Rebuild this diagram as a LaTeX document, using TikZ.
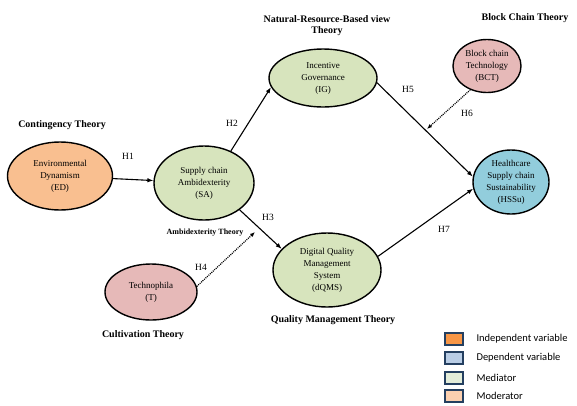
\documentclass[tikz,border=0pt]{standalone}
\usepackage{fontspec}
\setmainfont{Liberation Serif}
\newfontfamily\legendfont{Carlito}
\usetikzlibrary{shapes.geometric,arrows.meta}
\definecolor{edfill}{HTML}{F9BF90}
\definecolor{medfill}{HTML}{D7E4BD}
\definecolor{modfill}{HTML}{E6B9B8}
\definecolor{depfill}{HTML}{92CDDC}
\definecolor{legind}{HTML}{F79646}
\definecolor{legdep}{HTML}{B9CDE5}
\definecolor{legmed}{HTML}{E3EDD9}
\definecolor{legmod}{HTML}{FBD0B0}
\definecolor{legedge}{HTML}{243F60}
\begin{document}
\begin{tikzpicture}[x=1pt,y=-1pt,
  construct/.style={ellipse,draw,line width=1.4pt,inner sep=0pt,align=center,font=\rmfamily\fontsize{9}{12}\selectfont},
  theory/.style={font=\rmfamily\fontsize{10}{11}\selectfont\bfseries,align=center},
  hyp/.style={font=\rmfamily\fontsize{9.5}{11}\selectfont},
  effect/.style={line width=1.1pt,-{Latex[length=6pt,width=4.5pt]}},
  moder/.style={line width=1.2pt,dash pattern=on 1pt off 1pt,-{Latex[length=5pt,width=4pt]}},
  legbox/.style={draw=legedge,line width=1.3pt,minimum width=18pt,minimum height=12pt,inner sep=0pt},
  legtext/.style={font=\legendfont\fontsize{10.5}{12}\selectfont,anchor=west}]
\useasboundingbox (0,0) rectangle (577,405);

% constructs
\node[construct,fill=edfill,minimum width=105pt,minimum height=68pt] (ED) at (60,176) {Environmental\\Dynamism\\(ED)};
\node[construct,fill=medfill,minimum width=100pt,minimum height=74pt] (SA) at (204,183) {Supply chain\\Ambidexterity\\(SA)};
\node[construct,fill=medfill,minimum width=108pt,minimum height=58pt] (IG) at (323,78) {Incentive\\Governance\\(IG)};
\node[construct,fill=medfill,minimum width=108pt,minimum height=74pt] (dQMS) at (327,270) {Digital Quality\\Management\\System\\(dQMS)};
\node[construct,fill=modfill,minimum width=92pt,minimum height=56pt] (T) at (151,292) {Technophila\\(T)};
\node[construct,fill=modfill,minimum width=68pt,minimum height=53pt] (BCT) at (487,66) {Block chain\\Technology\\(BCT)};
\node[construct,fill=depfill,minimum width=76pt,minimum height=64pt] (HSSu) at (511,182) {Healthcare\\Supply chain\\Sustainability\\(HSSu)};

% theories
\node[theory] (contth) at (62,125) {Contingency Theory};
\node[theory] (nrbvth) at (327,26) {Natural-Resource-Based view\\Theory};
\node[theory] (bcth) at (525,18) {Block Chain Theory};
\node[theory,font=\rmfamily\fontsize{8}{9}\selectfont\bfseries] (ambith) at (205,233) {Ambidexterity Theory};
\node[theory] (cultth) at (143,335) {Cultivation Theory};
\node[theory] (qmth) at (333,320) {Quality Management Theory};

% paths
\coordinate (h4tip) at (255,232);
\coordinate (h6tip) at (427,129);
\draw[effect] (ED) -- (SA);
\draw[effect] (SA.50) -- (IG.190);
\draw[effect] (SA.-37) -- (dQMS.155);
\draw[moder] (T.7) -- (h4tip);
\draw[effect] (IG.-5) -- (HSSu.172);
\draw[moder] (BCT.235) -- (h6tip);
\draw[effect] (dQMS.15) -- (HSSu.190);

% hypotheses
\node[hyp] (h1) at (128,156) {H1};
\node[hyp] (h2) at (232,123) {H2};
\node[hyp] (h3) at (268,217) {H3};
\node[hyp] (h4) at (201,267) {H4};
\node[hyp] (h5) at (408,89) {H5};
\node[hyp] (h6) at (467,113) {H6};
\node[hyp] (h7) at (444,229) {H7};

% legend
\node[legbox,fill=legind] (leg1) at (454,339) {};
\node[legbox,fill=legdep] (leg2) at (454,358) {};
\node[legbox,fill=legmed] (leg3) at (454,378) {};
\node[legbox,fill=legmod] (leg4) at (454,396) {};
\node[legtext] (legt1) at (473,339) {Independent variable};
\node[legtext] (legt2) at (473,358) {Dependent variable};
\node[legtext] (legt3) at (473,378) {Mediator};
\node[legtext] (legt4) at (473,396) {Moderator};
\end{tikzpicture}
\end{document}
